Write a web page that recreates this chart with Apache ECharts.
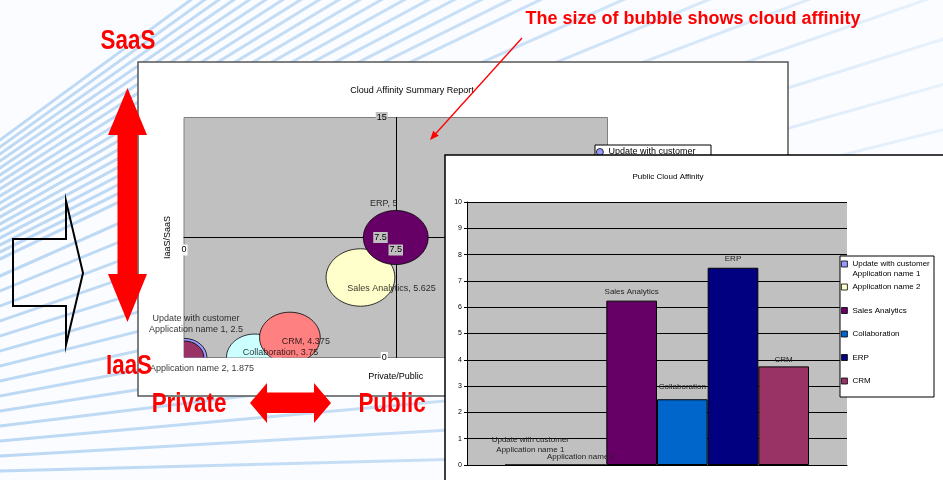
<!DOCTYPE html>
<html><head><meta charset="utf-8">
<script src="https://cdn.jsdelivr.net/npm/echarts@6/dist/echarts.min.js"></script>
<style>html,body{margin:0;padding:0;background:#fff;overflow:hidden}#c{width:943px;height:480px}</style>
</head><body><div id="c"></div>
<script>
// ---------- data ----------
const categories = ['Update with customer\nApplication name 1', 'Application name 2', 'Sales Analytics', 'Collaboration', 'ERP', 'CRM'];
const privatePublic = [0, 0, 6.25, 2.5, 7.5, 3.75];      // bubble x
const iaasSaas = [0, 0, 5, 0, 7.5, 1.25];                 // bubble y
const cloudAffinity = [2.5, 1.875, 5.625, 3.75, 5, 4.375]; // bubble size
const publicCloudAffinity = [0, 0, 6.25, 2.5, 7.5, 3.75]; // bar values
const bubbleAxisMin = 0, bubbleAxisMax = 15, bubbleAxisStep = 7.5;
const barAxisMin = 0, barAxisMax = 10, barAxisStep = 1;

// ---------- styles ----------
const FONT = 'Liberation Sans, Arial, sans-serif';
const bubbleColors = ['#9999FF', '#993366', '#FFFFCC', '#CCFFFF', '#660066', '#FF8080'];
const barColors = ['#9999FF', '#FFFFCC', '#660066', '#0066CC', '#000080', '#993366'];
const bubbleLabelOffsets = [[12, -33], [18, 11], [31, 11], [26, -5], [-12, -34], [16, 4]];
const barLabelDistances = [10, 3, 4, 7, 4, 2];
const BUBBLE_RX = 14.5, BUBBLE_RY = 12.1;

const axisLabelRich = {
  w: { backgroundColor: '#fff', padding: [1, 1], fontSize: 9, color: '#000', fontFamily: FONT },
  g: { backgroundColor: '#C0C0C0', padding: [1, 1], fontSize: 9, color: '#000', fontFamily: FONT }
};
const axisFmt = v => (v === 0 ? '{w|0}' : '{g|' + v + '}');
// legend marker sits on the first line of a two-line entry
const legendFmt = name => (name.indexOf('\n') >= 0 ? '\n' + name : name);

// ---------- decorations ----------
const deco = [];
// background streaks
const bgYs = [];
for (let y = 140; y <= 262; y += 7) bgYs.push(y);
for (let y = 276; y <= 478; y += 15) bgYs.push(y);
bgYs.forEach(y0 => {
  const k = (y0 - 483) / 467;
  deco.push({ type: 'line', silent: true, z: 0,
    shape: { x1: -5, y1: y0 - 5 * k, x2: 950, y2: y0 + 950 * k },
    style: { lineWidth: 3, stroke: { type: 'linear', x: 0, y: 0, x2: 1, y2: 0, global: false,
      colorStops: [{ offset: 0, color: 'rgba(125,180,232,0.5)' }, { offset: 0.55, color: 'rgba(125,180,232,0.38)' }, { offset: 1, color: 'rgba(125,180,232,0.14)' }] } } });
});
// bubble chart panel
deco.push({ type: 'rect', z: 1, silent: true, shape: { x: 138, y: 62, width: 650, height: 334 },
  style: { fill: '#fff', stroke: '#555', lineWidth: 1.5 } });
deco.push({ type: 'text', z: 5, silent: true, x: 412, y: 91,
  style: { text: 'Cloud Affinity Summary Report', font: '9px ' + FONT, fill: '#000', textAlign: 'center', textVerticalAlign: 'middle' } });
deco.push({ type: 'rect', z: 5, silent: true, shape: { x: 595, y: 145, width: 116, height: 120 },
  style: { fill: '#fff', stroke: '#000', lineWidth: 1 } });
// bar chart panel
deco.push({ type: 'rect', z: 10, silent: true, shape: { x: 445, y: 155, width: 520, height: 340 },
  style: { fill: '#fff', stroke: '#000', lineWidth: 1.5 } });
deco.push({ type: 'text', z: 15, silent: true, x: 668, y: 177,
  style: { text: 'Public Cloud Affinity', font: '8px ' + FONT, fill: '#000', textAlign: 'center', textVerticalAlign: 'middle' } });
deco.push({ type: 'rect', z: 14, silent: true, shape: { x: 840, y: 256, width: 94, height: 141 },
  style: { fill: '#fff', stroke: '#000', lineWidth: 1 } });
// hollow arrow on the left
deco.push({ type: 'polygon', z: 20, silent: true,
  shape: { points: [[13, 239], [66, 239], [66, 201], [83, 273], [66, 345], [66, 306], [13, 306]] },
  style: { fill: 'rgba(255,255,255,0)', stroke: '#000', lineWidth: 2 } });
// red vertical double arrow
deco.push({ type: 'polygon', z: 20, silent: true,
  shape: { points: [[127.5, 88], [147, 135], [137.5, 135], [137.5, 274], [147, 274], [127.5, 322], [108, 274], [117.5, 274], [117.5, 135], [108, 135]] },
  style: { fill: '#FF0000' } });
// red horizontal double arrow
deco.push({ type: 'polygon', z: 20, silent: true,
  shape: { points: [[250, 403], [267, 383], [267, 392.5], [314, 392.5], [314, 383], [331, 403], [314, 423], [314, 413], [267, 413], [267, 423]] },
  style: { fill: '#FF0000' } });
// annotation arrow
deco.push({ type: 'line', z: 20, silent: true, shape: { x1: 522, y1: 38, x2: 434, y2: 135.5 },
  style: { stroke: '#FF0000', lineWidth: 1.3 } });
deco.push({ type: 'polygon', z: 20, silent: true, shape: { points: [[430, 140], [438.8, 135.8], [433.2, 130.8]] },
  style: { fill: '#FF0000' } });
// red words
const bigWord = (t, x, y) => ({ type: 'text', z: 21, silent: true, x, y, scaleX: 0.8,
  style: { text: t, font: 'bold 28px ' + FONT, fill: '#FF0000', textAlign: 'center', textVerticalAlign: 'middle' } });
deco.push(bigWord('SaaS', 128, 41));
deco.push(bigWord('IaaS', 129, 366));
deco.push(bigWord('Private', 189, 404));
deco.push(bigWord('Public', 392, 404));
deco.push({ type: 'text', z: 21, silent: true, x: 693, y: 19,
  style: { text: 'The size of bubble shows cloud affinity', font: 'bold 18px ' + FONT, fill: '#FF0000', textAlign: 'center', textVerticalAlign: 'middle' } });

// ---------- series ----------
const bubbleSeries = categories.map((name, i) => ({
  type: 'custom', name, xAxisIndex: 0, yAxisIndex: 0, clip: true, z: 4, silent: true,
  itemStyle: { color: bubbleColors[i] },
  data: [[privatePublic[i], iaasSaas[i], cloudAffinity[i]]],
  renderItem: (params, api) => {
    const c = api.coord([api.value(0), api.value(1)]);
    const s = Math.sqrt(api.value(2));
    return { type: 'ellipse', shape: { cx: c[0], cy: c[1], rx: BUBBLE_RX * s, ry: BUBBLE_RY * s },
      style: { fill: bubbleColors[i], stroke: '#000', lineWidth: 0.8 } };
  }
}));

const bubbleLabelSeries = {
  type: 'scatter', name: 'bubble labels', xAxisIndex: 0, yAxisIndex: 0, clip: false, z: 5, silent: true,
  symbolSize: 0.01, itemStyle: { color: 'rgba(0,0,0,0)' },
  data: categories.map((n, i) => ({ value: [privatePublic[i], iaasSaas[i]], label: { offset: bubbleLabelOffsets[i] } })),
  label: { show: true, position: 'inside', fontSize: 9, lineHeight: 11, color: '#000', fontFamily: FONT,
    formatter: p => categories[p.dataIndex] + ', ' + cloudAffinity[p.dataIndex] }
};

const barSeries = categories.map((name, i) => ({
  type: 'bar', name, xAxisIndex: 1, yAxisIndex: 1, z: 13, silent: true,
  barGap: '0%', barCategoryGap: '20%',
  data: [publicCloudAffinity[i]],
  itemStyle: { color: barColors[i], borderColor: '#000', borderWidth: 1 },
  label: { show: true, position: 'top', distance: barLabelDistances[i], formatter: '{a}',
    fontSize: 8, lineHeight: 10, color: '#222', fontFamily: FONT }
}));

const legendText = { fontSize: 8, lineHeight: 10, color: '#000', fontFamily: FONT };
const barLegendItem = i => ({ name: categories[i], icon: 'rect',
  itemStyle: { color: barColors[i], borderColor: '#000', borderWidth: 0.8 } });

// axis line layers (below bubbles) and label layers (above bubbles)
const bubbleAxisBase = { gridIndex: 0, type: 'value', min: bubbleAxisMin, max: bubbleAxisMax, interval: bubbleAxisStep,
  axisTick: { show: false }, splitLine: { show: false } };

const option = {
  backgroundColor: '#FAFCFF',
  animation: false,
  graphic: { elements: deco },
  grid: [
    { left: 184, top: 117.5, width: 423.5, height: 240, show: true, backgroundColor: '#C0C0C0', borderColor: '#808080', borderWidth: 1, z: 2 },
    { left: 467, top: 202, width: 380, height: 263, show: true, backgroundColor: '#C0C0C0', borderWidth: 0, z: 11 }
  ],
  xAxis: [
    Object.assign({}, bubbleAxisBase, { position: 'bottom', offset: -120, z: 3,
      axisLine: { show: true, onZero: false, lineStyle: { color: '#000', width: 1 } },
      axisLabel: { show: false },
      name: 'Private/Public', nameLocation: 'middle', nameGap: 135,
      nameTextStyle: { fontSize: 9, color: '#000', fontFamily: FONT } }),
    { type: 'category', gridIndex: 1, data: [''], z: 12,
      axisLine: { show: true, lineStyle: { color: '#000', width: 1 } },
      axisTick: { show: false }, axisLabel: { show: false } },
    Object.assign({}, bubbleAxisBase, { position: 'bottom', offset: -120, z: 6,
      axisLine: { show: false, onZero: false },
      axisLabel: { formatter: axisFmt, rich: axisLabelRich, margin: 7, fontSize: 9, color: '#000' } })
  ],
  yAxis: [
    Object.assign({}, bubbleAxisBase, { position: 'left', offset: -211.75, z: 3,
      axisLine: { show: true, onZero: false, lineStyle: { color: '#000', width: 1 } },
      axisLabel: { show: false },
      name: 'IaaS/SaaS', nameLocation: 'middle', nameGap: 224,
      nameTextStyle: { fontSize: 9, color: '#000', fontFamily: FONT } }),
    { type: 'value', gridIndex: 1, min: barAxisMin, max: barAxisMax, interval: barAxisStep, z: 12,
      axisLine: { show: true, lineStyle: { color: '#000', width: 1 } },
      axisTick: { show: true, length: 3, lineStyle: { color: '#000' } },
      splitLine: { show: true, lineStyle: { color: '#000', width: 1 } },
      axisLabel: { fontSize: 7, color: '#000', margin: 5, fontFamily: FONT } },
    Object.assign({}, bubbleAxisBase, { position: 'left', offset: -211.75, z: 6,
      axisLine: { show: false, onZero: false },
      axisLabel: { formatter: axisFmt, rich: axisLabelRich, margin: 8, fontSize: 9, color: '#000' } })
  ],
  legend: [
    { data: categories.map((n, i) => ({ name: n, icon: 'circle', itemStyle: { color: bubbleColors[i], borderColor: '#000', borderWidth: 0.8 } })),
      orient: 'vertical', left: 596, top: 137, padding: 0, itemWidth: 7, itemHeight: 7, itemGap: 4,
      selectedMode: false, z: 6, formatter: legendFmt,
      textStyle: { fontSize: 9, lineHeight: 10, color: '#000', fontFamily: FONT } },
    { data: [0].map(barLegendItem), orient: 'vertical', left: 841, top: 249, padding: 0,
      itemWidth: 6, itemHeight: 6, selectedMode: false, z: 15, formatter: legendFmt, textStyle: legendText },
    { data: [1, 2, 3, 4, 5].map(barLegendItem), orient: 'vertical', left: 841, top: 282, padding: 0,
      itemWidth: 6, itemHeight: 6, itemGap: 13.5, selectedMode: false, z: 15, textStyle: legendText }
  ],
  series: [...bubbleSeries, bubbleLabelSeries, ...barSeries]
};

const chart = echarts.init(document.getElementById('c'), null, { renderer: 'canvas' });
chart.setOption(option);
</script>
</body></html>
